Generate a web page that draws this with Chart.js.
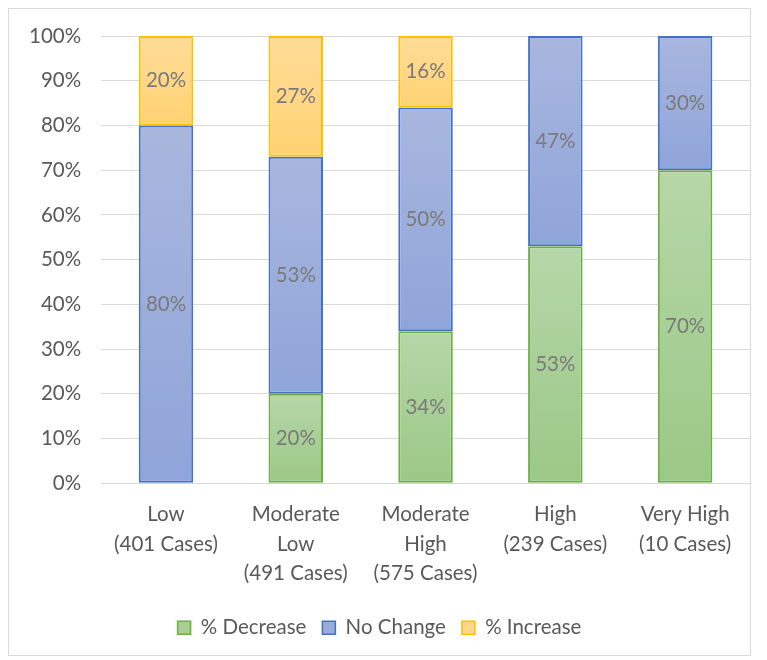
<!DOCTYPE html>
<html>
<head>
<meta charset="utf-8">
<script src="https://cdn.jsdelivr.net/npm/chart.js@4.4.1/dist/chart.umd.min.js"></script>
<style>
  html, body { margin: 0; padding: 0; background: #fff; }
  #frame {
    position: absolute; left: 8px; top: 8px;
    width: 743px; height: 648px;
    border: 1px solid #d9d9d9; box-sizing: border-box;
  }
  #chart { width: 100%; height: 100%; }
</style>
</head>
<body>
<div id="frame"><canvas id="chart"></canvas></div>
<script>
const categories = [
  ["Low", "(401 Cases)"],
  ["Moderate", "Low", "(491 Cases)"],
  ["Moderate", "High", "(575 Cases)"],
  ["High", "(239 Cases)"],
  ["Very High", "(10 Cases)"]
];
const seriesNames = ["% Decrease", "No Change", "% Increase"];
const decrease = [0, 20, 34, 53, 70];
const noChange = [80, 53, 50, 47, 30];
const increase = [20, 27, 16, 0, 0];
const yTicks = [0, 10, 20, 30, 40, 50, 60, 70, 80, 90, 100];

const FONT = "Lato, 'Open Sans', sans-serif";
const FSIZE = 20.5;
const series = [decrease, noChange, increase];
const borders = ["#70ad47", "#4472c4", "#ffc000"];
const gradTop = ["#b6d7a8", "#a9b7de", "#ffdc98"];
const gradBottom = ["#9bc886", "#8fa4d9", "#ffd272"];
const legendFill = ["#a7cf93", "#99add9", "#ffd78a"];

function segmentFill(i) {
  return function (ctx) {
    const chart = ctx.chart;
    const y = chart.scales.y;
    if (!y || ctx.dataIndex === undefined) return legendFill[i];
    let start = 0;
    for (let k = 0; k < i; k++) start += series[k][ctx.dataIndex];
    const end = start + series[i][ctx.dataIndex];
    const top = y.getPixelForValue(end);
    const bottom = y.getPixelForValue(start);
    if (!isFinite(top) || !isFinite(bottom) || top === bottom) return legendFill[i];
    const g = chart.ctx.createLinearGradient(0, top, 0, bottom);
    g.addColorStop(0, gradTop[i]);
    g.addColorStop(1, gradBottom[i]);
    return g;
  };
}

// percentage labels centred in each segment
const segmentLabels = {
  id: "segmentLabels",
  afterDatasetsDraw(chart) {
    const c = chart.ctx;
    c.save();
    c.font = FSIZE + "px " + FONT;
    c.fillStyle = "#7a7a7a";
    c.textAlign = "center";
    c.textBaseline = "middle";
    chart.data.datasets.forEach((ds, i) => {
      chart.getDatasetMeta(i).data.forEach((bar, j) => {
        const v = ds.data[j];
        if (!v) return;
        c.fillText(v + "%", bar.x, (bar.y + bar.base) / 2);
      });
    });
    c.restore();
  }
};

const datasets = seriesNames.map((name, i) => ({
  label: name,
  data: series[i],
  backgroundColor: segmentFill(i),
  borderColor: borders[i],
  borderWidth: 2,
  borderSkipped: false,
  barPercentage: 0.42,
  categoryPercentage: 1.0
}));

new Chart(document.getElementById("chart"), {
  type: "bar",
  data: { labels: categories, datasets: datasets },
  plugins: [segmentLabels],
  options: {
    responsive: true,
    maintainAspectRatio: false,
    animation: false,
    layout: { padding: { top: 0, right: 0, bottom: 7, left: 0 } },
    plugins: {
      tooltip: { enabled: false },
      legend: {
        position: "bottom",
        labels: {
          boxWidth: 13,
          boxHeight: 13,
          padding: 16,
          color: "#595959",
          font: { family: FONT, size: FSIZE },
          generateLabels: (chart) => seriesNames.map((name, i) => ({
            text: name,
            fillStyle: legendFill[i],
            strokeStyle: borders[i],
            lineWidth: 1.5,
            datasetIndex: i,
            fontColor: "#595959"
          }))
        }
      }
    },
    scales: {
      x: {
        stacked: true,
        grid: { display: false },
        border: { display: true, color: "#d9d9d9" },
        afterFit: (axis) => { axis.height += 5; },
        ticks: {
          color: "#595959",
          font: { family: FONT, size: FSIZE, lineHeight: 1.45 },
          padding: 8,
          maxRotation: 0,
          autoSkip: false
        }
      },
      y: {
        stacked: true,
        min: 0,
        max: 100,
        afterBuildTicks: (axis) => { axis.ticks = yTicks.map(v => ({ value: v })); },
        afterFit: (axis) => { axis.paddingTop = 27; axis.paddingBottom = 10; },
        grid: { color: "#d9d9d9", lineWidth: 1, drawTicks: false },
        border: { display: false },
        ticks: {
          color: "#595959",
          font: { family: FONT, size: FSIZE },
          padding: 20,
          callback: (v) => v + "%"
        }
      }
    }
  }
});
</script>
</body>
</html>
